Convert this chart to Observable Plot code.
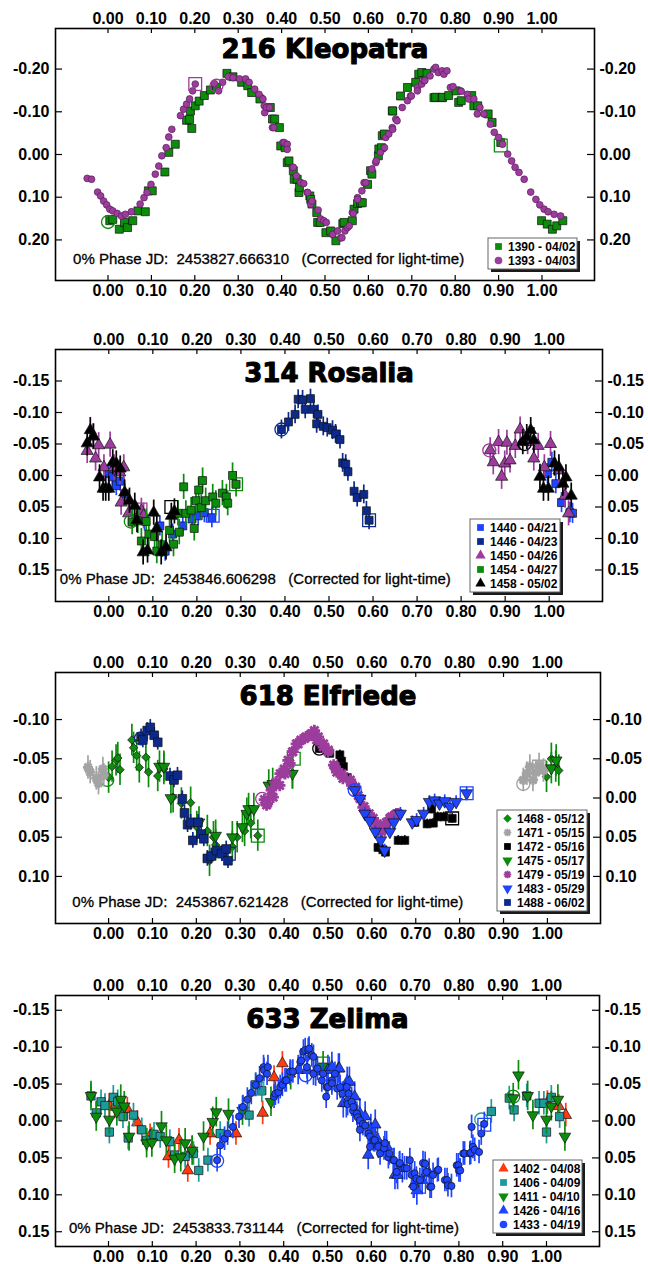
<!DOCTYPE html>
<html>
<head>
<meta charset="utf-8">
<script src="https://cdn.jsdelivr.net/npm/d3@7"></script>
<script src="https://cdn.jsdelivr.net/npm/@observablehq/plot@0.6"></script>
<style>
  html, body { margin: 0; padding: 0; background: #fff; }
  #charts { width: 648px; }
  #charts svg { display: block; }
  svg text { white-space: pre; }
</style>
</head>
<body>
<div id="charts"></div>
<script>
// ---- phase axis (shared by all four lightcurves) ----
const phaseTicks = [0, 0.1, 0.2, 0.3, 0.4, 0.5, 0.6, 0.7, 0.8, 0.9, 1.0];
const phaseDomain = [-0.121, 1.121];

// ---- 216 Kleopatra: [phase, magnitude] ----
const k1390 = [[0.004,0.155],[0.011,0.152],[0.026,0.175],[0.038,0.159],[0.045,0.171],[0.057,0.155],[0.069,0.132],[0.086,0.134],[0.093,0.085],[0.102,0.085],[0.131,0.041],[0.140,-0.005],[0.155,-0.024],[0.181,-0.080],[0.193,-0.061],[0.188,-0.082],[0.190,-0.102],[0.201,-0.114],[0.210,-0.125],[0.222,-0.138],[0.236,-0.151],[0.250,-0.157],[0.274,-0.190],[0.288,-0.182],[0.308,-0.169],[0.322,-0.161],[0.331,-0.145],[0.350,-0.130],[0.374,-0.110],[0.379,-0.083],[0.384,-0.083],[0.395,-0.063],[0.398,-0.020],[0.408,-0.016],[0.413,0.019],[0.417,0.015],[0.427,0.038],[0.429,0.058],[0.436,0.058],[0.440,0.089],[0.441,0.077],[0.465,0.097],[0.467,0.105],[0.470,0.116],[0.481,0.136],[0.483,0.159],[0.489,0.159],[0.502,0.183],[0.513,0.179],[0.525,0.202],[0.541,0.162],[0.544,0.159],[0.563,0.155],[0.567,0.128],[0.575,0.115],[0.582,0.113],[0.586,0.113],[0.598,0.070],[0.605,0.038],[0.608,0.046],[0.623,0.003],[0.624,-0.013],[0.630,-0.016],[0.632,-0.044],[0.637,-0.048],[0.655,-0.102],[0.656,-0.102],[0.674,-0.137],[0.690,-0.157],[0.709,-0.169],[0.716,-0.188],[0.723,-0.192],[0.735,-0.190],[0.751,-0.133],[0.755,-0.134],[0.770,-0.133],[0.771,-0.134],[0.785,-0.138],[0.802,-0.149],[0.808,-0.122],[0.814,-0.126],[0.838,-0.138],[0.843,-0.114],[0.852,-0.114],[0.876,-0.095],[0.885,-0.075],[0.905,-0.028],[0.999,0.155],[1.012,0.163],[1.024,0.175],[1.034,0.167],[1.048,0.155]];
const k1393 = [[-0.048,0.056],[-0.038,0.058],[-0.024,0.088],[-0.017,0.097],[-0.010,0.109],[-0.003,0.118],[0.004,0.128],[0.011,0.132],[0.021,0.138],[0.031,0.144],[0.040,0.140],[0.054,0.134],[0.074,0.116],[0.083,0.101],[0.090,0.089],[0.099,0.070],[0.109,0.046],[0.117,0.027],[0.124,0.003],[0.134,-0.016],[0.140,-0.041],[0.147,-0.059],[0.167,-0.091],[0.174,-0.106],[0.181,-0.118],[0.188,-0.130],[0.195,-0.149],[0.201,-0.165],[0.245,-0.166],[0.255,-0.149],[0.264,-0.169],[0.277,-0.182],[0.288,-0.180],[0.303,-0.177],[0.317,-0.177],[0.325,-0.169],[0.338,-0.153],[0.348,-0.141],[0.357,-0.130],[0.360,-0.114],[0.361,-0.098],[0.365,-0.110],[0.372,-0.110],[0.379,-0.063],[0.382,-0.063],[0.403,-0.028],[0.406,-0.028],[0.413,-0.024],[0.413,-0.012],[0.425,0.031],[0.427,0.030],[0.434,0.050],[0.443,0.066],[0.444,0.066],[0.451,0.068],[0.459,0.089],[0.460,0.089],[0.467,0.116],[0.470,0.109],[0.484,0.130],[0.490,0.151],[0.497,0.155],[0.503,0.159],[0.517,0.187],[0.518,0.187],[0.529,0.179],[0.536,0.195],[0.539,0.195],[0.546,0.179],[0.552,0.171],[0.556,0.167],[0.563,0.136],[0.565,0.138],[0.575,0.101],[0.575,0.105],[0.585,0.085],[0.590,0.066],[0.594,0.066],[0.608,0.034],[0.617,0.019],[0.618,0.015],[0.628,-0.005],[0.637,-0.016],[0.640,-0.040],[0.647,-0.048],[0.655,-0.063],[0.656,-0.059],[0.663,-0.083],[0.666,-0.079],[0.678,-0.110],[0.690,-0.126],[0.697,-0.137],[0.699,-0.137],[0.713,-0.157],[0.713,-0.149],[0.723,-0.165],[0.728,-0.173],[0.730,-0.173],[0.742,-0.184],[0.751,-0.200],[0.755,-0.204],[0.761,-0.192],[0.770,-0.196],[0.774,-0.188],[0.781,-0.196],[0.789,-0.157],[0.795,-0.159],[0.812,-0.149],[0.814,-0.148],[0.828,-0.141],[0.831,-0.130],[0.843,-0.130],[0.851,-0.095],[0.857,-0.110],[0.866,-0.095],[0.881,-0.071],[0.890,-0.052],[0.900,-0.040],[0.909,-0.024],[0.921,-0.001],[0.930,0.015],[0.938,0.030],[0.947,0.042],[0.959,0.058],[0.974,0.088],[0.986,0.105],[0.995,0.118],[1.005,0.128],[1.014,0.134],[1.028,0.140],[1.043,0.144]];
const kleopatraTicks = [-0.20, -0.10, 0.00, 0.10, 0.20];

// ---- 314 Rosalia ----
const r1440 = [[0.000,-0.003],[0.008,0.002],[0.017,0.016],[0.026,0.009],[0.036,0.029],[0.081,0.072],[0.116,0.080],[0.128,0.120],[0.145,0.093],[0.168,0.080],[0.189,0.069],[0.203,0.064],[0.217,0.059],[0.234,0.067],[0.996,-0.003],[1.006,-0.021],[1.015,0.013],[1.028,0.043],[1.047,0.059],[1.053,0.060]];
const r1446 = [[0.392,-0.073],[0.408,-0.085],[0.423,-0.097],[0.430,-0.121],[0.440,-0.120],[0.446,-0.105],[0.458,-0.122],[0.465,-0.105],[0.475,-0.097],[0.472,-0.082],[0.487,-0.078],[0.496,-0.076],[0.508,-0.072],[0.515,-0.066],[0.525,-0.057],[0.531,-0.020],[0.538,-0.018],[0.543,-0.006],[0.557,0.025],[0.564,0.035],[0.579,0.030],[0.585,0.056],[0.591,0.071]];
const r1450 = [[-0.049,-0.039],[-0.035,-0.062],[-0.030,-0.027],[-0.023,-0.048],[0.003,-0.049],[-0.011,-0.013],[0.012,-0.013],[0.025,-0.005],[0.034,-0.013],[0.028,0.043],[0.045,0.060],[0.074,0.056],[0.079,0.064],[0.866,-0.040],[0.873,-0.021],[0.885,-0.053],[0.892,0.002],[0.899,-0.019],[0.904,-0.052],[0.911,-0.024],[0.923,-0.047],[0.934,-0.073],[0.951,-0.053],[0.965,-0.027],[0.975,-0.047],[0.989,-0.013],[1.003,-0.050],[1.022,-0.008],[1.036,0.032],[1.044,0.060]];
const r1454 = [[0.053,0.074],[0.066,0.072],[0.074,0.104],[0.085,0.073],[0.091,0.093],[0.104,0.097],[0.109,0.120],[0.121,0.110],[0.138,0.087],[0.147,0.109],[0.157,0.060],[0.160,0.090],[0.170,0.018],[0.175,0.060],[0.187,0.055],[0.194,0.084],[0.198,0.040],[0.204,0.023],[0.210,0.051],[0.213,0.008],[0.220,0.040],[0.236,0.034],[0.243,0.044],[0.258,0.028],[0.267,0.034],[0.270,0.044],[0.281,0.000],[0.289,0.014]];
const r1458 = [[-0.049,-0.051],[-0.042,-0.072],[-0.035,-0.062],[-0.021,0.003],[-0.013,0.021],[-0.007,0.021],[0.000,0.021],[0.009,-0.021],[0.017,-0.019],[0.026,-0.011],[0.036,0.027],[0.047,0.040],[0.059,0.048],[0.064,0.071],[0.078,0.122],[0.088,0.119],[0.102,0.059],[0.109,0.084],[0.119,0.122],[0.130,0.114],[0.142,0.064],[0.149,0.057],[0.940,-0.053],[0.949,-0.061],[0.958,-0.072],[0.965,-0.056],[0.979,0.002],[0.987,0.021],[0.998,0.021],[1.012,-0.019],[1.022,-0.013],[1.031,0.013],[1.038,0.003],[1.050,0.032]];
const rosaliaTicks = [-0.15, -0.10, -0.05, 0.00, 0.05, 0.10, 0.15];

// ---- 618 Elfriede ----
const e1468 = [[0.000,-0.026],[0.008,-0.040],[0.017,-0.048],[0.021,-0.051],[0.026,-0.036],[0.053,-0.074],[0.057,-0.064],[0.064,-0.054],[0.070,-0.039],[0.085,-0.052],[0.091,-0.033],[0.112,-0.028],[0.126,-0.037],[0.147,-0.001],[0.166,0.007],[0.187,0.006],[0.201,0.037],[0.225,0.042],[0.239,0.050],[0.244,0.060],[0.230,0.080],[0.282,0.062],[0.293,0.050],[0.310,0.042],[0.324,0.032],[0.340,0.048],[0.419,-0.032],[0.998,-0.027],[1.009,-0.050],[1.019,-0.040],[1.026,-0.035]];
const e1471 = [[-0.047,-0.039],[-0.042,-0.033],[-0.028,-0.025],[-0.023,-0.019],[-0.013,-0.037],[-0.011,-0.029],[0.945,-0.023],[0.953,-0.031],[0.960,-0.040],[0.967,-0.023],[0.974,-0.033],[0.981,-0.042],[0.991,-0.035]];
const e1472 = [[0.480,-0.063],[0.504,-0.057],[0.527,-0.055],[0.531,-0.047],[0.535,-0.040],[0.544,-0.026],[0.614,0.063],[0.625,0.066],[0.631,0.069],[0.660,0.054],[0.675,0.054],[0.698,0.031],[0.726,0.033],[0.736,0.014],[0.740,0.032],[0.750,0.024],[0.764,0.024],[0.783,0.026]];
const e1475 = [[0.116,-0.040],[0.126,-0.040],[0.142,0.000],[0.206,0.031],[0.244,0.048],[0.282,0.050],[0.305,0.037],[0.315,0.020],[0.319,0.014],[0.331,0.014],[0.365,-0.016],[0.374,-0.018],[0.419,-0.031],[1.009,-0.038],[1.020,-0.048]];
const e1479 = [[0.355,0.002],[0.360,0.009],[0.362,0.007],[0.371,-0.010],[0.375,-0.001],[0.381,-0.020],[0.390,-0.016],[0.391,-0.031],[0.400,-0.037],[0.402,-0.031],[0.409,-0.048],[0.413,-0.044],[0.419,-0.059],[0.420,-0.059],[0.428,-0.069],[0.432,-0.069],[0.438,-0.074],[0.447,-0.076],[0.450,-0.078],[0.459,-0.080],[0.462,-0.082],[0.469,-0.086],[0.474,-0.074],[0.478,-0.078],[0.489,-0.065],[0.490,-0.069],[0.500,-0.059],[0.501,-0.061],[0.513,-0.042],[0.516,-0.040],[0.520,-0.033],[0.532,-0.031],[0.534,-0.025],[0.551,-0.023],[0.554,-0.016],[0.563,-0.014],[0.569,-0.003],[0.573,0.001],[0.580,0.012],[0.582,0.011],[0.594,0.020],[0.595,0.024],[0.603,0.026],[0.610,0.037],[0.612,0.033],[0.622,0.041],[0.622,0.043],[0.631,0.035],[0.633,0.031],[0.641,0.026],[0.645,0.024],[0.652,0.022],[0.656,0.020],[0.660,0.020]];
const e1483 = [[0.561,-0.010],[0.573,0.001],[0.584,0.020],[0.595,0.029],[0.608,0.043],[0.620,0.054],[0.629,0.067],[0.641,0.043],[0.650,0.031],[0.665,0.020],[0.692,0.031],[0.702,0.028],[0.718,0.020],[0.731,0.005],[0.743,0.003],[0.754,0.007],[0.766,0.004],[0.778,0.011],[0.792,0.005],[0.816,-0.006]];
const e1488 = [[0.074,-0.078],[0.078,-0.074],[0.088,-0.086],[0.095,-0.090],[0.104,-0.080],[0.112,-0.071],[0.140,-0.028],[0.149,-0.023],[0.157,-0.029],[0.168,0.001],[0.173,0.019],[0.180,0.034],[0.187,0.031],[0.192,0.054],[0.204,0.031],[0.211,0.046],[0.217,0.052],[0.225,0.077],[0.234,0.074],[0.246,0.067],[0.258,0.071],[0.268,0.065],[0.272,0.080]];
const elfriedeTicks = [-0.10, -0.05, 0.00, 0.05, 0.10];

// ---- 633 Zelima ----
const z1402 = [[0.002,-0.021],[0.014,-0.019],[0.028,-0.015],[0.043,-0.016],[0.066,0.002],[0.095,0.020],[0.137,0.048],[0.161,0.026],[0.181,0.067],[0.191,0.037],[0.232,0.017],[0.291,0.017],[0.352,-0.011],[0.378,-0.059],[0.397,-0.078],[0.414,-0.064],[1.002,-0.025],[1.028,-0.020],[1.044,-0.008]];
const z1406 = [[-0.040,-0.034],[-0.028,-0.011],[-0.017,-0.026],[-0.008,-0.021],[0.002,0.015],[0.011,-0.032],[0.021,-0.026],[0.033,-0.006],[0.045,0.023],[0.057,-0.008],[0.076,0.012],[0.087,0.026],[0.104,0.018],[0.118,0.021],[0.140,0.028],[0.151,0.046],[0.175,0.048],[0.194,0.044],[0.206,0.067],[0.227,0.053],[0.255,0.017],[0.321,-0.008],[0.336,-0.049],[0.350,-0.041],[0.874,-0.013],[0.915,-0.031],[0.926,-0.015],[0.955,-0.034],[0.983,-0.024],[0.994,-0.024],[1.000,0.015],[1.011,-0.032],[1.030,-0.006]];
const z1411 = [[-0.040,-0.034],[-0.028,-0.006],[0.002,-0.002],[0.019,-0.013],[0.028,-0.029],[0.036,-0.020],[0.047,0.021],[0.087,0.030],[0.099,0.029],[0.121,0.007],[0.132,0.026],[0.151,0.051],[0.165,0.049],[0.175,0.030],[0.191,0.040],[0.217,0.021],[0.238,0.001],[0.246,-0.012],[0.274,-0.010],[0.306,-0.014],[0.371,-0.026],[0.416,-0.062],[0.490,-0.074],[0.924,-0.031],[0.936,-0.062],[0.957,-0.034],[0.969,-0.008],[1.000,-0.002],[1.011,-0.020],[1.026,-0.029],[1.042,0.021]];
const z1426 = [[0.433,-0.069],[0.454,-0.069],[0.473,-0.067],[0.501,-0.069],[0.510,-0.073],[0.525,-0.071],[0.527,-0.071],[0.536,-0.024],[0.543,-0.024],[0.545,-0.053],[0.550,-0.053],[0.555,-0.026],[0.562,-0.033],[0.574,-0.010],[0.586,-0.006],[0.593,0.046],[0.599,0.011],[0.609,0.005],[0.614,0.025],[0.635,0.034],[0.654,0.073],[0.660,0.073],[0.671,0.064],[0.698,0.085],[0.704,0.094],[0.716,0.080],[0.732,0.071]];
const z1433 = [[0.248,0.053],[0.255,0.033],[0.265,0.024],[0.272,0.017],[0.284,0.008],[0.298,-0.006],[0.307,-0.019],[0.317,-0.029],[0.326,-0.038],[0.336,-0.049],[0.345,-0.058],[0.354,-0.073],[0.355,-0.069],[0.362,-0.064],[0.364,-0.073],[0.378,-0.033],[0.381,-0.037],[0.388,-0.039],[0.392,-0.046],[0.397,-0.049],[0.403,-0.055],[0.406,-0.055],[0.415,-0.067],[0.421,-0.067],[0.438,-0.080],[0.440,-0.082],[0.445,-0.094],[0.449,-0.096],[0.453,-0.073],[0.456,-0.096],[0.458,-0.098],[0.464,-0.089],[0.468,-0.087],[0.468,-0.064],[0.477,-0.071],[0.487,-0.055],[0.490,-0.064],[0.497,-0.033],[0.498,-0.046],[0.501,-0.046],[0.510,-0.055],[0.510,-0.051],[0.517,-0.064],[0.522,-0.044],[0.529,-0.046],[0.534,-0.037],[0.544,-0.046],[0.546,-0.023],[0.548,-0.037],[0.555,-0.026],[0.558,-0.014],[0.559,-0.019],[0.567,-0.010],[0.569,-0.005],[0.574,-0.001],[0.574,0.012],[0.581,0.004],[0.586,0.006],[0.594,0.017],[0.597,0.021],[0.597,0.035],[0.605,0.026],[0.608,0.026],[0.616,0.033],[0.616,0.035],[0.620,0.044],[0.629,0.037],[0.631,0.030],[0.639,0.049],[0.641,0.044],[0.650,0.053],[0.652,0.053],[0.658,0.069],[0.664,0.058],[0.665,0.057],[0.676,0.064],[0.681,0.064],[0.688,0.053],[0.692,0.073],[0.696,0.089],[0.699,0.071],[0.703,0.078],[0.711,0.080],[0.718,0.057],[0.723,0.058],[0.726,0.069],[0.734,0.089],[0.737,0.089],[0.741,0.073],[0.751,0.067],[0.753,0.066],[0.768,0.080],[0.773,0.080],[0.775,0.087],[0.783,0.088],[0.795,0.060],[0.799,0.060],[0.800,0.067],[0.803,0.067],[0.810,0.044],[0.813,0.044],[0.825,0.044],[0.827,0.043],[0.829,0.008],[0.832,0.035],[0.836,0.039],[0.846,0.042],[0.851,0.017],[0.858,0.004]];
const zelimaTicks = [-0.15, -0.10, -0.05, 0.00, 0.05, 0.10, 0.15];

// ---- symbols ----
const triangleDown = {
  draw(ctx, size) {
    const y = -Math.sqrt(size / (Math.sqrt(3) * 3));
    ctx.moveTo(0, -y * 2);
    ctx.lineTo(-Math.sqrt(3) * y, y);
    ctx.lineTo(Math.sqrt(3) * y, y);
    ctx.closePath();
  }
};
const splat = {
  draw(ctx, size) {
    const r = Math.sqrt(size / Math.PI) * 1.15;
    for (let k = 0; k < 4; k++) {
      const a = k * Math.PI / 4;
      ctx.moveTo(r * Math.cos(a), r * Math.sin(a));
      ctx.lineTo(-r * Math.cos(a), -r * Math.sin(a));
    }
  }
};

const GREEN = "#0b8c0b", PURPLE = "#9c3c9c", BLUE = "#1f45ff", NAVY = "#0c2a8c",
      BLACK = "#000000", GRAY = "#a3a3a3", RED = "#ff3a10", TEAL = "#1f9a9a";

const panels = [
  {
    title: "216 Kleopatra", jd: "2453827.666310", height: 320,
    margin: {top: 28, bottom: 40, left: 55, right: 54},
    yDomain: [-0.295, 0.295], yTicks: kleopatraTicks,
    titleDy: 29, caption: {x: 72.6, y: 263},
    legend: {x: 488, y: 238, w: 89},
    sessions: [
      {label: "1390 - 04/02", data: k1390, color: GREEN, symbol: d3.symbolSquare, r: 4.5, err: 0, first: [0.0, 0.158], last: [0.905, -0.021]},
      {label: "1393 - 04/03", data: k1393, color: PURPLE, symbol: d3.symbolCircle, r: 3.4, err: 0, edge: "#5a1f5a", first: [0.250, -0.161], last: [0.201, -0.165]}
    ]
  },
  {
    title: "314 Rosalia", jd: "2453846.606298", height: 320,
    margin: {top: 29, bottom: 39, left: 55, right: 46},
    yDomain: [-0.2, 0.2], yTicks: rosaliaTicks,
    titleDy: 32, caption: {x: 59.3, y: 263},
    legend: {x: 470, y: 199, w: 90},
    sessions: [
      {label: "1440 - 04/21", data: r1440, color: BLUE, symbol: d3.symbolSquare, r: 4.5, err: 0.016, last: [0.236, 0.064]},
      {label: "1446 - 04/23", data: r1446, color: NAVY, symbol: d3.symbolSquare, r: 4.5, err: 0.015, first: [0.392, -0.073], last: [0.591, 0.071]},
      {label: "1450 - 04/26", data: r1450, color: PURPLE, symbol: d3.symbolTriangle, r: 4.5, err: 0.02, first: [0.864, -0.040], last: [0.072, 0.054]},
      {label: "1454 - 04/27", data: r1454, color: GREEN, symbol: d3.symbolSquare, r: 4.5, err: 0.02, first: [0.050, 0.073], last: [0.289, 0.014]},
      {label: "1458 - 05/02", data: r1458, color: BLACK, symbol: d3.symbolTriangle, r: 4.5, err: 0.02, first: [0.944, -0.050], last: [0.142, 0.050]}
    ]
  },
  {
    title: "618 Elfriede", jd: "2453867.621428", height: 320,
    margin: {top: 32, bottom: 37, left: 55, right: 48},
    yDomain: [-0.16, 0.16], yTicks: elfriedeTicks,
    titleDy: 32, caption: {x: 71.8, y: 266},
    legend: {x: 497, y: 170, w: 90},
    sessions: [
      {label: "1468 - 05/12", data: e1468, color: GREEN, symbol: d3.symbolDiamond2, r: 3.8, err: 0.02, first: [-0.003, -0.023], last: [0.340, 0.048]},
      {label: "1471 - 05/15", data: e1471, color: GRAY, symbol: splat, r: 4.4, err: 0.015, stroked: true, first: [0.945, -0.018], last: [0.981, -0.040]},
      {label: "1472 - 05/16", data: e1472, color: BLACK, symbol: d3.symbolSquare, r: 4.5, err: 0.006, first: [0.480, -0.063], last: [0.783, 0.026]},
      {label: "1475 - 05/17", data: e1475, color: GREEN, symbol: triangleDown, r: 4.3, err: 0.02, last: [0.422, -0.050]},
      {label: "1479 - 05/19", data: e1479, color: PURPLE, symbol: splat, r: 5, err: 0, stroked: true, first: [0.350, 0.001]},
      {label: "1483 - 05/29", data: e1483, color: BLUE, symbol: triangleDown, r: 4.5, err: 0.008, first: [0.561, -0.010], last: [0.816, -0.006]},
      {label: "1488 - 06/02", data: e1488, color: NAVY, symbol: d3.symbolSquare, r: 4.9, err: 0.01, first: [0.074, -0.076], last: [0.274, 0.071]}
    ]
  },
  {
    title: "633 Zelima", jd: "2453833.731144", height: 304,
    margin: {top: 35, bottom: 18, left: 55, right: 49},
    yDomain: [-0.17, 0.17], yTicks: zelimaTicks,
    titleDy: 32, caption: {x: 68.5, y: 272},
    legend: {x: 493, y: 200, w: 89},
    sessions: [
      {label: "1402 - 04/08", data: z1402, color: RED, symbol: d3.symbolTriangle, r: 4.3, err: 0.016},
      {label: "1406 - 04/09", data: z1406, color: TEAL, symbol: d3.symbolSquare, r: 4.7, err: 0.016, first: [0.851, -0.002], last: [0.340, -0.044]},
      {label: "1411 - 04/10", data: z1411, color: GREEN, symbol: triangleDown, r: 4.3, err: 0.02, first: [0.924, -0.033], last: [0.490, -0.078]},
      {label: "1426 - 04/16", data: z1426, color: BLUE, symbol: d3.symbolTriangle, r: 4.3, err: 0.02, first: [0.450, -0.062], last: [0.709, 0.089]},
      {label: "1433 - 04/19", data: z1433, color: BLUE, symbol: d3.symbolCircle, r: 3.6, err: 0.016, first: [0.248, 0.054], last: [0.858, 0.005]}
    ]
  }
];

const fmt = d => d.toFixed(2);
const LABEL_FONT = "'Liberation Sans', Arial, sans-serif";

function sessionMarks(s) {
  const rows = s.data.map(([x, y]) => ({x, y}));
  const marks = [];
  if (s.err) {
    marks.push(Plot.ruleX(rows, {x: "x", y1: d => d.y - s.err, y2: d => d.y + s.err, stroke: s.color, strokeWidth: 1.7}));
  }
  if (s.stroked) {
    marks.push(Plot.dot(rows, {x: "x", y: "y", symbol: s.symbol, r: s.r, fill: "none", stroke: s.color, strokeWidth: 2.8}));
  } else {
    marks.push(Plot.dot(rows, {x: "x", y: "y", symbol: s.symbol, r: s.r, fill: s.color, stroke: s.edge || "#111", strokeWidth: 0.7}));
  }
  if (s.first) {
    marks.push(Plot.dot([s.first], {x: d => d[0], y: d => d[1], symbol: "circle", r: 6.5, fill: "none", stroke: s.color, strokeWidth: 1.3}));
  }
  if (s.last) {
    marks.push(Plot.dot([s.last], {x: d => d[0], y: d => d[1], symbol: "square", r: 7.2, fill: "none", stroke: s.color, strokeWidth: 1.3}));
  }
  return marks;
}

function drawLegend(svg, p) {
  const {x, y, w} = p.legend;
  const rowH = 14, h = p.sessions.length * rowH + 3;
  const g = d3.select(svg).append("g").attr("text-anchor", "start");
  g.append("rect").attr("x", x + 3).attr("y", y + 3).attr("width", w).attr("height", h).attr("fill", "#1a1a1a");
  g.append("rect").attr("x", x).attr("y", y).attr("width", w).attr("height", h)
    .attr("fill", "#fff").attr("stroke", "#666").attr("stroke-width", 1);
  p.sessions.forEach((s, i) => {
    const cy = y + 8.5 + i * rowH;
    const path = g.append("path")
      .attr("transform", `translate(${x + 10.5},${cy})`)
      .attr("d", d3.symbol(s.symbol, s.stroked ? 34 : 46)());
    if (s.stroked) path.attr("fill", "none").attr("stroke", s.color).attr("stroke-width", 2);
    else path.attr("fill", s.color);
    g.append("text")
      .attr("x", x + 20).attr("y", cy + 4.3)
      .attr("text-anchor", "start")
      .attr("font-family", LABEL_FONT).attr("font-size", 12).attr("font-weight", "bold")
      .attr("fill", "#000").text(s.label);
  });
}

const container = document.getElementById("charts");
for (const p of panels) {
  const m = p.margin;
  const fw = 648 - m.left - m.right;
  const fh = p.height - m.top - m.bottom;
  const svg = Plot.plot({
    width: 648,
    height: p.height,
    marginTop: m.top, marginBottom: m.bottom, marginLeft: m.left, marginRight: m.right,
    style: {fontFamily: LABEL_FONT, fontSize: "16px", fontWeight: "bold", color: "#000", background: "#fff"},
    x: {domain: phaseDomain, axis: null},
    y: {domain: p.yDomain, reverse: true, axis: null},
    marks: [
      ...p.sessions.flatMap(sessionMarks),
      Plot.frame({stroke: "#000", strokeWidth: 1.6}),
      Plot.tickX(phaseTicks, {x: d => d, insetBottom: fh - 5, stroke: "#000", strokeWidth: 1.2}),
      Plot.tickX(phaseTicks, {x: d => d, insetTop: fh - 5, stroke: "#000", strokeWidth: 1.2}),
      Plot.tickY(p.yTicks, {y: d => d, insetRight: fw - 7, stroke: "#000", strokeWidth: 1.2}),
      Plot.tickY(p.yTicks, {y: d => d, insetLeft: fw - 7, stroke: "#000", strokeWidth: 1.2}),
      Plot.axisX(phaseTicks, {anchor: "top", label: null, tickSize: 0, tickPadding: 5, tickFormat: fmt}),
      Plot.axisX(phaseTicks, {anchor: "bottom", label: null, tickSize: 0, tickPadding: 4, tickFormat: fmt}),
      Plot.axisY(p.yTicks, {anchor: "left", label: null, tickSize: 0, tickPadding: 6, tickFormat: fmt}),
      Plot.axisY(p.yTicks, {anchor: "right", label: null, tickSize: 0, tickPadding: 5, tickFormat: fmt}),
      Plot.text([p.title], {
        frameAnchor: "top", dy: p.titleDy, lineAnchor: "bottom", text: d => d,
        fontFamily: "'DejaVu Sans', sans-serif", fontSize: 26, fontWeight: "bold",
        fill: "#000", stroke: "#000", strokeWidth: 1.1
      }),
      Plot.text([`0% Phase JD:  ${p.jd}   (Corrected for light-time)`], {
        frameAnchor: "top-left", dx: p.caption.x - m.left, dy: p.caption.y - m.top,
        lineAnchor: "bottom", textAnchor: "start", text: d => d,
        fontFamily: LABEL_FONT, fontSize: 15, fontWeight: "normal",
        fill: "#000", stroke: "#000", strokeWidth: 0.3
      })
    ]
  });
  drawLegend(svg, p);
  container.appendChild(svg);
}
</script>
</body>
</html>
